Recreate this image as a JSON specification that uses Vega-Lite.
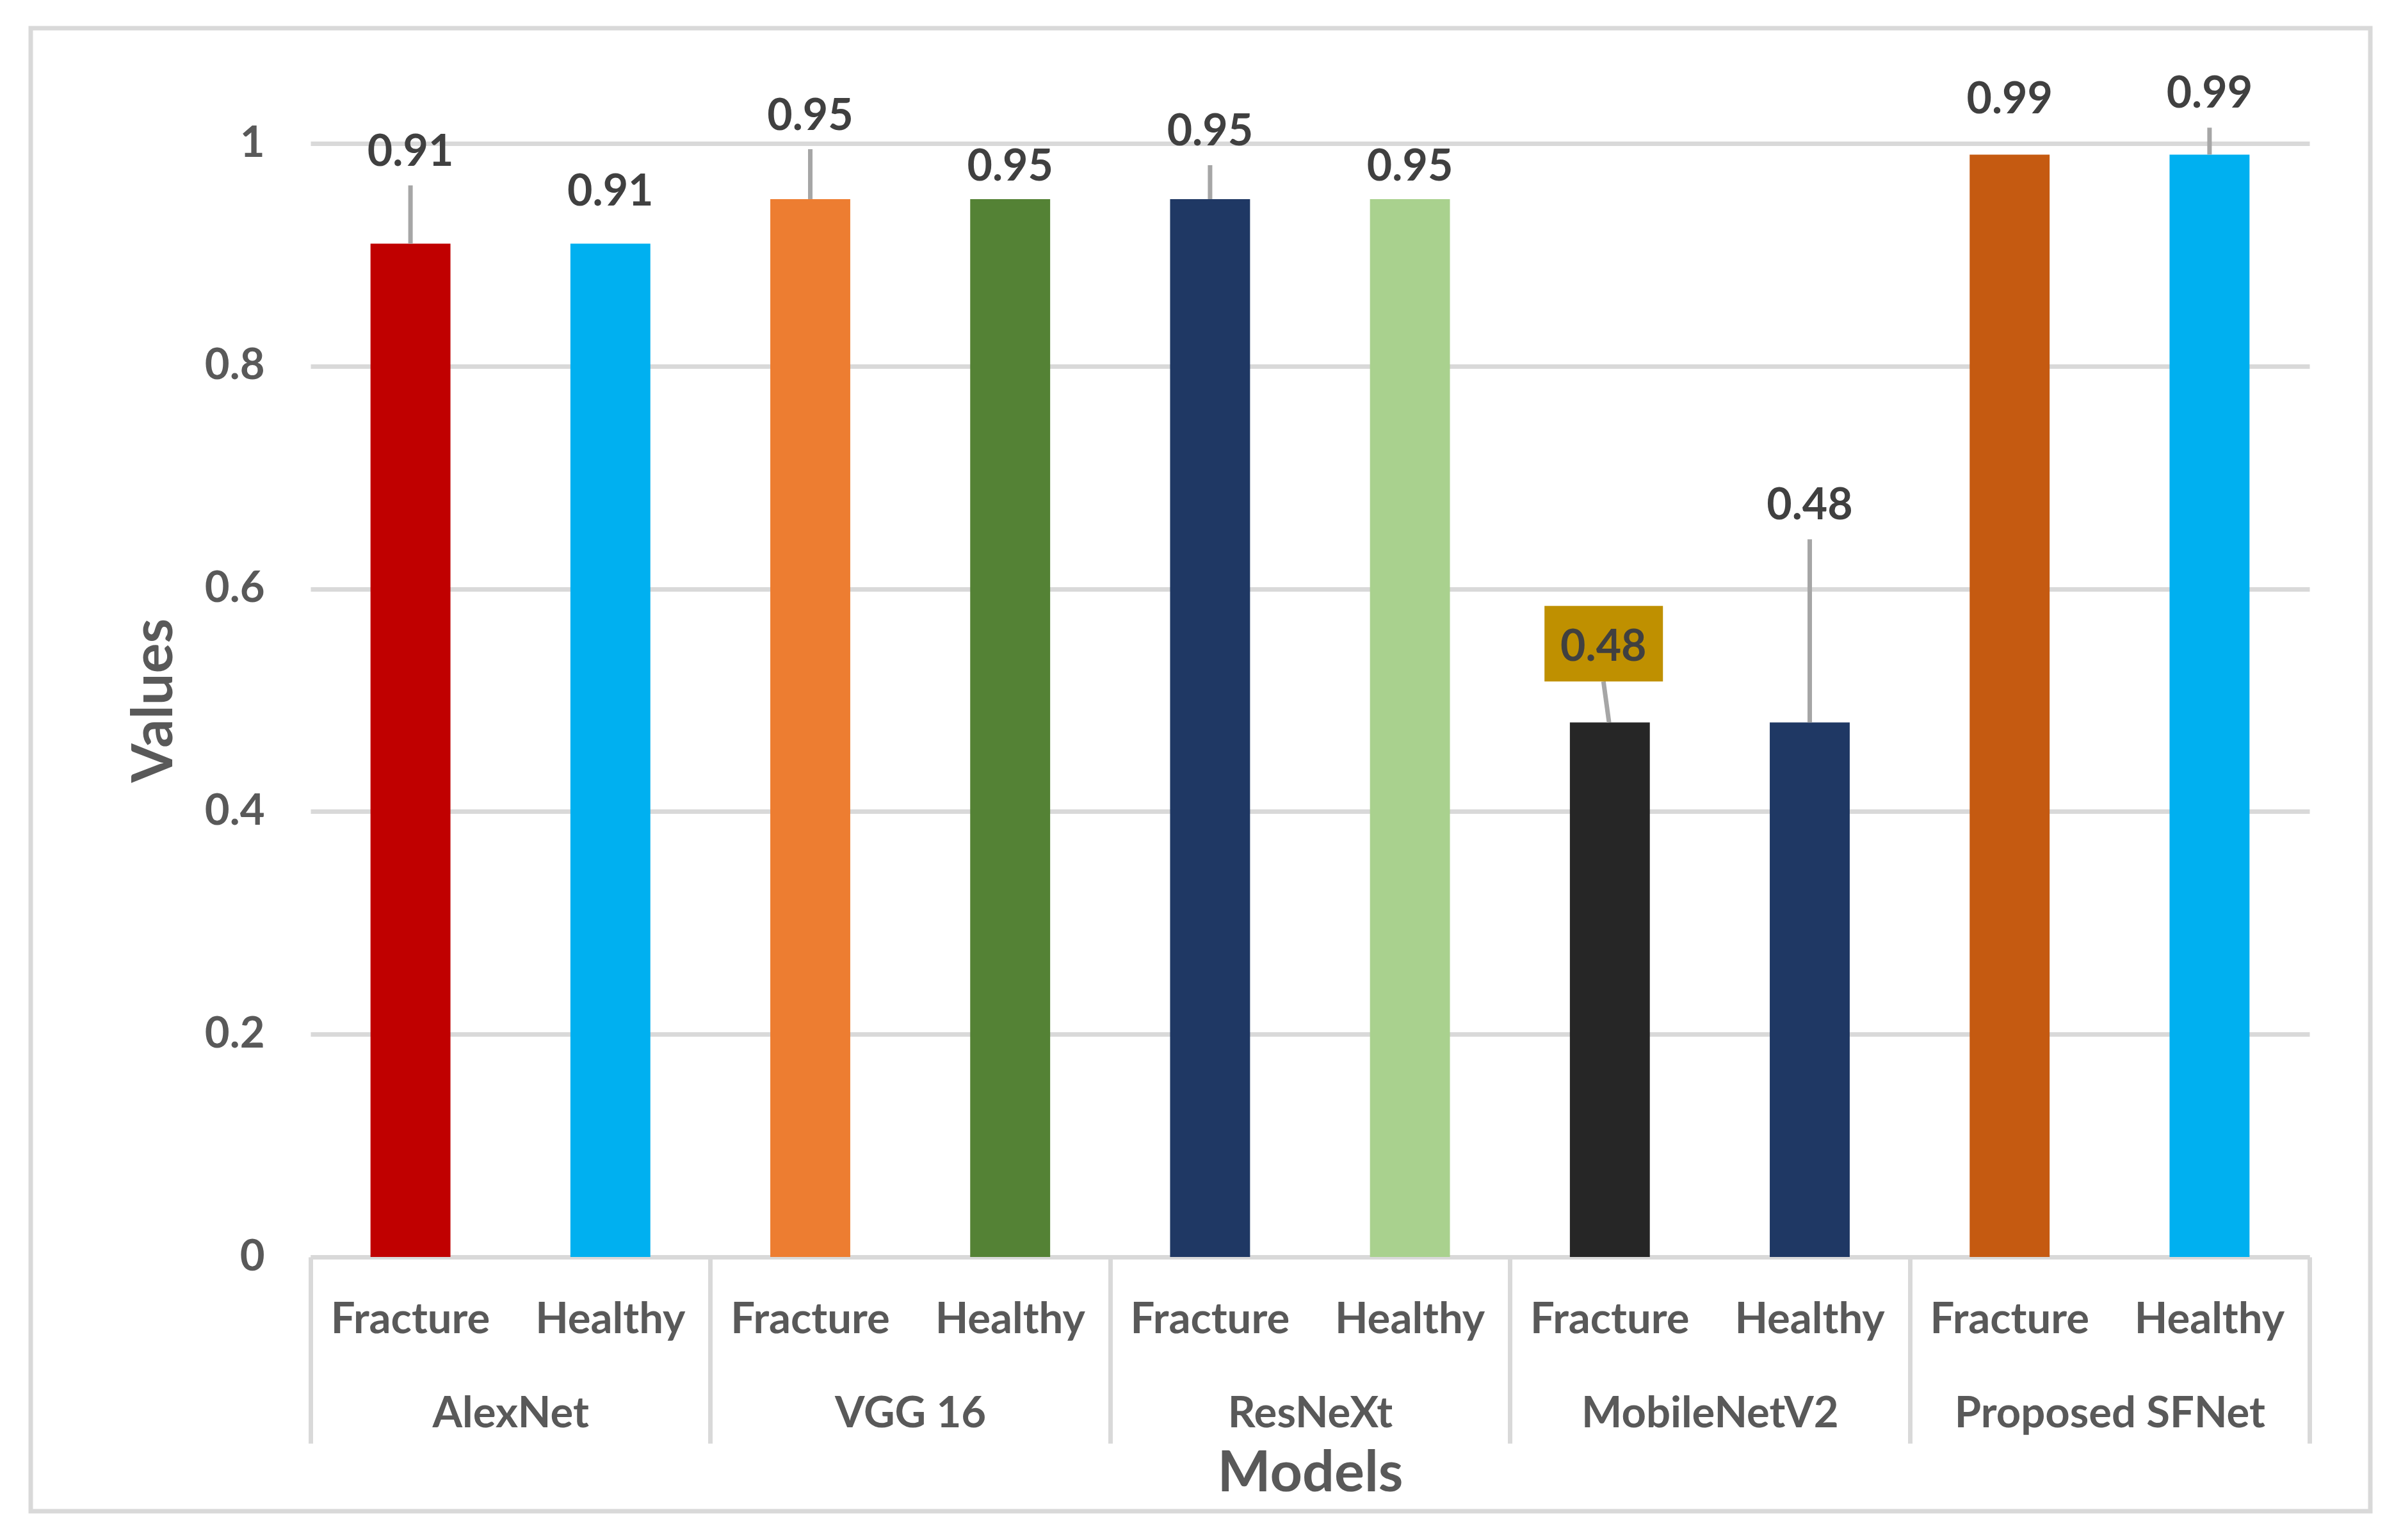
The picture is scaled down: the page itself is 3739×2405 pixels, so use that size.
{
  "$schema": "https://vega.github.io/schema/vega-lite/v6.json",
  "autosize": "none",
  "width": 3654,
  "height": 2316,
  "padding": {"left": 48, "top": 44, "right": 37, "bottom": 45},
  "background": "white",
  "data": {
    "values": [
      {"Model": "AlexNet", "Class": "Fracture", "Bar": "AlexNet Fracture", "Value": 0.91},
      {"Model": "AlexNet", "Class": "Healthy", "Bar": "AlexNet Healthy", "Value": 0.91},
      {"Model": "VGG 16", "Class": "Fracture", "Bar": "VGG 16 Fracture", "Value": 0.95},
      {"Model": "VGG 16", "Class": "Healthy", "Bar": "VGG 16 Healthy", "Value": 0.95},
      {"Model": "ResNeXt", "Class": "Fracture", "Bar": "ResNeXt Fracture", "Value": 0.95},
      {"Model": "ResNeXt", "Class": "Healthy", "Bar": "ResNeXt Healthy", "Value": 0.95},
      {"Model": "MobileNetV2", "Class": "Fracture", "Bar": "MobileNetV2 Fracture", "Value": 0.48},
      {"Model": "MobileNetV2", "Class": "Healthy", "Bar": "MobileNetV2 Healthy", "Value": 0.48},
      {"Model": "Proposed SFNet", "Class": "Fracture", "Bar": "Proposed SFNet Fracture", "Value": 0.99},
      {"Model": "Proposed SFNet", "Class": "Healthy", "Bar": "Proposed SFNet Healthy", "Value": 0.99}
    ]
  },
  "encoding": {
    "x": {
      "field": "Model",
      "type": "nominal",
      "sort": ["AlexNet", "VGG 16", "ResNeXt", "MobileNetV2", "Proposed SFNet"],
      "scale": {"range": [437, 3559], "paddingInner": 0, "paddingOuter": 0},
      "axis": {
        "orient": "bottom",
        "offset": -397,
        "title": "Models",
        "titleFontSize": 88,
        "titleFontWeight": "bold",
        "titleColor": "#595959",
        "titleBaseline": "alphabetic",
        "titlePadding": 165,
        "domainColor": "#D9D9D9",
        "domainWidth": 7,
        "tickBand": "extent",
        "tickSize": 291,
        "tickColor": "#D9D9D9",
        "tickWidth": 7,
        "labelAngle": 0,
        "labelFontSize": 67,
        "labelFontWeight": "bold",
        "labelColor": "#595959",
        "labelBaseline": "alphabetic",
        "labelPadding": -26,
        "labelLimit": 1000
      }
    },
    "y": {
      "field": "Value",
      "type": "quantitative",
      "scale": {"domain": [0, 1], "range": [1919, 180], "nice": false},
      "axis": {
        "offset": -437,
        "values": [0, 0.2, 0.4, 0.6, 0.8, 1],
        "format": "~g",
        "title": "Values",
        "titleFontSize": 88,
        "titleFontWeight": "bold",
        "titleColor": "#595959",
        "titleBaseline": "alphabetic",
        "titlePadding": 51,
        "domain": false,
        "ticks": false,
        "grid": true,
        "gridColor": "#D9D9D9",
        "gridWidth": 7,
        "labelFontSize": 67,
        "labelFontWeight": "bold",
        "labelColor": "#595959",
        "labelPadding": 72
      }
    }
  },
  "layer": [
    {
      "encoding": {
        "xOffset": {
          "field": "Class",
          "type": "nominal",
          "sort": ["Fracture", "Healthy"],
          "scale": {"paddingInner": 0.6, "paddingOuter": 0.3}
        }
      },
      "layer": [
        {
          "mark": {"type": "bar"},
          "encoding": {
            "color": {
              "field": "Bar",
              "type": "nominal",
              "scale": {
                "domain": ["AlexNet Fracture", "AlexNet Healthy", "VGG 16 Fracture", "VGG 16 Healthy", "ResNeXt Fracture", "ResNeXt Healthy", "MobileNetV2 Fracture", "MobileNetV2 Healthy", "Proposed SFNet Fracture", "Proposed SFNet Healthy"],
                "range": ["#C00000", "#00B0F0", "#ED7D31", "#548235", "#1F3864", "#A9D18E", "#262626", "#1F3864", "#C55A11", "#00B0F0"]
              },
              "legend": null
            }
          }
        },
        {
          "mark": {"type": "text", "dy": 119, "fontSize": 67, "fontWeight": "bold", "color": "#595959", "baseline": "alphabetic"},
          "encoding": {"y": {"datum": 0}, "text": {"field": "Class"}}
        },
        {
          "transform": [{"filter": "datum.Bar == 'AlexNet Fracture'"}],
          "mark": {"type": "rule", "color": "#A6A6A6", "strokeWidth": 7, "y2Offset": -91},
          "encoding": {"y2": {"field": "Value"}}
        },
        {
          "transform": [{"filter": "datum.Bar == 'VGG 16 Fracture'"}],
          "mark": {"type": "rule", "color": "#A6A6A6", "strokeWidth": 7, "y2Offset": -78},
          "encoding": {"y2": {"field": "Value"}}
        },
        {
          "transform": [{"filter": "datum.Bar == 'ResNeXt Fracture'"}],
          "mark": {"type": "rule", "color": "#A6A6A6", "strokeWidth": 7, "y2Offset": -53},
          "encoding": {"y2": {"field": "Value"}}
        },
        {
          "transform": [{"filter": "datum.Bar == 'MobileNetV2 Healthy'"}],
          "mark": {"type": "rule", "color": "#A6A6A6", "strokeWidth": 7, "y2Offset": -286},
          "encoding": {"y2": {"field": "Value"}}
        },
        {
          "transform": [{"filter": "datum.Bar == 'Proposed SFNet Healthy'"}],
          "mark": {"type": "rule", "color": "#A6A6A6", "strokeWidth": 7, "y2Offset": -42},
          "encoding": {"y2": {"field": "Value"}}
        },
        {
          "transform": [{"filter": "datum.Bar == 'AlexNet Fracture'"}],
          "mark": {"type": "text", "dy": -122, "fontSize": 68, "fontWeight": "bold", "color": "#404040", "baseline": "alphabetic"},
          "encoding": {"text": {"field": "Value", "type": "quantitative", "format": ".2f"}}
        },
        {
          "transform": [{"filter": "datum.Bar == 'AlexNet Healthy'"}],
          "mark": {"type": "text", "dy": -60, "fontSize": 68, "fontWeight": "bold", "color": "#404040", "baseline": "alphabetic"},
          "encoding": {"text": {"field": "Value", "type": "quantitative", "format": ".2f"}}
        },
        {
          "transform": [{"filter": "datum.Bar == 'VGG 16 Fracture'"}],
          "mark": {"type": "text", "dy": -108, "fontSize": 68, "fontWeight": "bold", "color": "#404040", "baseline": "alphabetic"},
          "encoding": {"text": {"field": "Value", "type": "quantitative", "format": ".2f"}}
        },
        {
          "transform": [{"filter": {"field": "Bar", "oneOf": ["VGG 16 Healthy", "ResNeXt Healthy"]}}],
          "mark": {"type": "text", "dy": -29, "fontSize": 68, "fontWeight": "bold", "color": "#404040", "baseline": "alphabetic"},
          "encoding": {"text": {"field": "Value", "type": "quantitative", "format": ".2f"}}
        },
        {
          "transform": [{"filter": "datum.Bar == 'ResNeXt Fracture'"}],
          "mark": {"type": "text", "dy": -84, "fontSize": 68, "fontWeight": "bold", "color": "#404040", "baseline": "alphabetic"},
          "encoding": {"text": {"field": "Value", "type": "quantitative", "format": ".2f"}}
        },
        {
          "transform": [{"filter": "datum.Bar == 'MobileNetV2 Healthy'"}],
          "mark": {"type": "text", "dy": -317, "fontSize": 68, "fontWeight": "bold", "color": "#404040", "baseline": "alphabetic"},
          "encoding": {"text": {"field": "Value", "type": "quantitative", "format": ".2f"}}
        },
        {
          "transform": [{"filter": "datum.Bar == 'Proposed SFNet Fracture'"}],
          "mark": {"type": "text", "dy": -64, "fontSize": 68, "fontWeight": "bold", "color": "#404040", "baseline": "alphabetic"},
          "encoding": {"text": {"field": "Value", "type": "quantitative", "format": ".2f"}}
        },
        {
          "transform": [{"filter": "datum.Bar == 'Proposed SFNet Healthy'"}],
          "mark": {"type": "text", "dy": -73, "fontSize": 68, "fontWeight": "bold", "color": "#404040", "baseline": "alphabetic"},
          "encoding": {"text": {"field": "Value", "type": "quantitative", "format": ".2f"}}
        }
      ]
    },
    {
      "transform": [{"filter": "datum.Bar == 'MobileNetV2 Fracture'"}],
      "mark": {"type": "rule", "color": "#A6A6A6", "strokeWidth": 7, "y2Offset": -64},
      "encoding": {
        "x": {"field": "Model", "type": "nominal", "bandPosition": 0.248},
        "x2": {"field": "Model", "bandPosition": 0.234},
        "y2": {"field": "Value"}
      }
    },
    {
      "transform": [{"filter": "datum.Bar == 'MobileNetV2 Fracture'"}],
      "mark": {"type": "bar", "color": "#BF9000", "yOffset": -182, "y2Offset": -64},
      "encoding": {
        "x": {"field": "Model", "type": "nominal", "bandPosition": 0.0865},
        "x2": {"field": "Model", "bandPosition": 0.3828},
        "y2": {"field": "Value"}
      }
    },
    {
      "transform": [{"filter": "datum.Bar == 'MobileNetV2 Fracture'"}],
      "mark": {"type": "text", "dy": -96, "fontSize": 68, "fontWeight": "bold", "color": "#404040", "baseline": "alphabetic"},
      "encoding": {
        "x": {"field": "Model", "type": "nominal", "bandPosition": 0.234},
        "text": {"field": "Value", "type": "quantitative", "format": ".2f"}
      }
    }
  ],
  "config": {
    "font": "Lato",
    "view": {"stroke": "#D9D9D9", "strokeWidth": 7}
  }
}
